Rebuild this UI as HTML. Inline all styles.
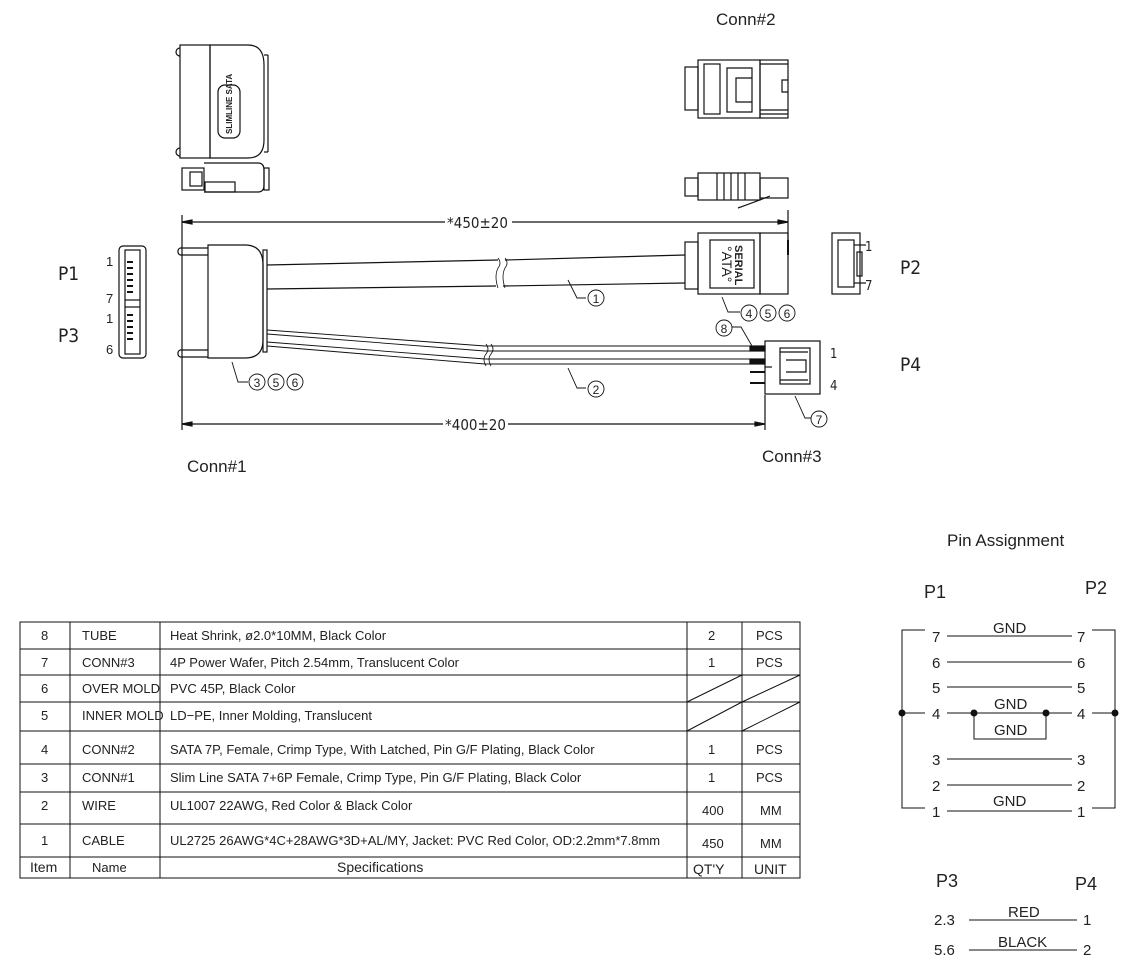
<!DOCTYPE html>
<html><head><meta charset="utf-8"><style>
html,body{margin:0;padding:0;background:#fff;}
svg{display:block;}
text{font-family:"Liberation Sans",sans-serif;fill:#222;}
.n{font-family:"DejaVu Sans Condensed","Liberation Sans Narrow","Liberation Sans",sans-serif;}
</style></head><body>
<svg width="1133" height="972" viewBox="0 0 1133 972" xmlns="http://www.w3.org/2000/svg" stroke="#111" fill="none" stroke-width="1.2">
<!-- Conn#1 top view -->
<rect x="180" y="45" width="30" height="113"/>
<path d="M180 48 a4 4 0 0 0 0 8 M180 148 a4 4 0 0 0 0 8"/>
<path d="M210 45 H248 Q264 45 264 65 V140 Q264 158 248 158 H210 Z"/>
<line x1="264" y1="55" x2="268" y2="55"/><line x1="268" y1="55" x2="268" y2="152"/><line x1="264" y1="152" x2="268" y2="152"/>
<rect x="218" y="85" width="22" height="53" rx="7"/>
<text x="0" y="0" transform="translate(232,134) rotate(-90)" font-size="8" stroke="none" font-weight="bold">SLIMLINE SATA</text>
<!-- Conn#1 side -->
<rect x="182" y="168" width="22" height="22"/><rect x="190" y="172" width="12" height="14"/>
<path d="M204 163 H258 Q264 163 264 170 V185 Q264 192 258 192 H204"/>
<rect x="205" y="182" width="30" height="10"/>
<rect x="264" y="168" width="5" height="22"/>
<!-- Conn#2 top -->
<rect x="685" y="67" width="13" height="43"/>
<rect x="698" y="60" width="62" height="58"/>
<rect x="704" y="64" width="16" height="50"/>
<path d="M727 68 H752 V112 H727 Z M736 78 H752 V102 H736 Z"/>
<rect x="760" y="60" width="28" height="58"/>
<line x1="760" y1="64" x2="788" y2="64"/><line x1="760" y1="110" x2="788" y2="110"/><line x1="760" y1="114" x2="788" y2="114"/>
<path d="M788 80 h-6 v12 h6"/>
<!-- Conn#2 side -->
<rect x="685" y="178" width="13" height="18"/>
<rect x="698" y="173" width="62" height="27"/>
<line x1="717" y1="173" x2="717" y2="200"/><line x1="724" y1="173" x2="724" y2="200"/><line x1="731" y1="173" x2="731" y2="200"/><line x1="738" y1="173" x2="738" y2="200"/><line x1="745" y1="173" x2="745" y2="200"/>
<rect x="760" y="178" width="28" height="20"/>
<path d="M738 208 Q760 200 770 196"/>
<!-- dim 450 -->
<line x1="182" y1="215" x2="182" y2="430"/>
<line x1="182" y1="222" x2="445" y2="222"/><line x1="512" y1="222" x2="788" y2="222"/>
<path d="M182 222 l10 -2 v4 z M788 222 l-10 -2 v4 z" fill="#111"/>
<line x1="788" y1="210" x2="788" y2="252"/>
<text x="447" y="228" font-size="15" stroke="none" class="n">*450±20</text>
<!-- dim 400 -->
<line x1="182" y1="424" x2="443" y2="424"/><line x1="508" y1="424" x2="765" y2="424"/>
<path d="M182 424 l10 -2 v4 z M765 424 l-10 -2 v4 z" fill="#111"/>
<line x1="765" y1="395" x2="765" y2="430"/>
<text x="445" y="430" font-size="15" stroke="none" class="n">*400±20</text>
<!-- P1/P3 face -->
<rect x="119" y="246" width="27" height="112" rx="4"/>
<rect x="125" y="250" width="15" height="104"/>
<line x1="125" y1="300" x2="140" y2="300"/><line x1="125" y1="307" x2="140" y2="307"/>
<g stroke-width="2"><line x1="127" y1="262" x2="133" y2="262"/><line x1="127" y1="268" x2="133" y2="268"/><line x1="127" y1="274" x2="133" y2="274"/><line x1="127" y1="280" x2="133" y2="280"/><line x1="127" y1="286" x2="133" y2="286"/><line x1="127" y1="292" x2="133" y2="292"/>
<line x1="127" y1="315" x2="133" y2="315"/><line x1="127" y1="321" x2="133" y2="321"/><line x1="127" y1="327" x2="133" y2="327"/><line x1="127" y1="333" x2="133" y2="333"/><line x1="127" y1="339" x2="133" y2="339"/></g>
<g stroke="none" font-size="13" class="n"><text x="106" y="266">1</text><text x="106" y="303">7</text><text x="106" y="323">1</text><text x="106" y="354">6</text></g>
<text x="58" y="280" font-size="19" stroke="none" class="n">P1</text>
<text x="58" y="342" font-size="19" stroke="none" class="n">P3</text>
<!-- Conn#1 main -->
<path d="M180 248 H208 M180 255 H208 M180 350 H208 M180 357 H208"/>
<path d="M180 248 a4 4 0 0 0 0 7 M180 350 a4 4 0 0 0 0 7"/>
<path d="M208 245 H245 Q263 245 263 265 V340 Q263 358 245 358 H208 Z"/>
<rect x="263" y="250" width="4" height="102"/>
<!-- cable 1 -->
<line x1="267" y1="265" x2="498" y2="260"/><line x1="505" y1="260" x2="685" y2="255"/>
<line x1="267" y1="289" x2="496" y2="286"/><line x1="503" y1="286" x2="685" y2="283"/>
<path d="M498 258 q4 5 0 10 q-4 8 0 20 M505 258 q4 5 0 10 q-4 8 0 20" stroke-width="0.8"/>
<!-- wires 2 -->
<g stroke-width="0.9">
<path d="M267 330 L485 346 H750 M267 334 L485 351 H750 M267 342 L485 359 H750 M267 346 L485 364 H750"/>
</g>
<path d="M486 344 q4 5 0 10 q-4 5 0 12 M491 344 q4 5 0 10 q-4 5 0 12" stroke-width="0.8"/>
<rect x="750" y="346" width="15" height="5" fill="#111"/><rect x="750" y="359" width="15" height="5" fill="#111"/>
<path d="M750 372 H765 M750 383 H765" stroke-width="2"/>
<!-- Conn#2 main -->
<rect x="685" y="242" width="13" height="47"/>
<rect x="698" y="233" width="62" height="61"/>
<rect x="710" y="240" width="44" height="48"/>
<rect x="760" y="233" width="28" height="61"/>
<line x1="788" y1="240" x2="788" y2="255" stroke-width="2"/>
<text transform="translate(735,245) rotate(90)" font-family="Liberation Serif" font-size="11" stroke="none" font-weight="bold">SERIAL</text>
<text transform="translate(722,246) rotate(90)" font-family="Liberation Serif" font-size="14" stroke="none">°ATA°</text>
<!-- P2 face -->
<rect x="832" y="233" width="28" height="61"/>
<rect x="838" y="240" width="16" height="47"/>
<rect x="857" y="252" width="5" height="24"/>
<line x1="854" y1="245" x2="866" y2="245"/><line x1="854" y1="283" x2="866" y2="283"/>
<text x="865" y="251" font-size="13" stroke="none" class="n">1</text>
<text x="865" y="290" font-size="13" stroke="none" class="n">7</text>
<text x="900" y="274" font-size="19" stroke="none" class="n">P2</text>
<!-- Conn#3 -->
<rect x="765" y="341" width="55" height="53"/>
<line x1="765" y1="367" x2="772" y2="367"/>
<rect x="780" y="348" width="30" height="36"/>
<path d="M780 352 H808 M780 380 H808 M786 360 H806 V372 H786"/>
<text x="830" y="358" font-size="13" stroke="none" class="n">1</text>
<text x="830" y="390" font-size="13" stroke="none" class="n">4</text>
<text x="900" y="371" font-size="19" stroke="none" class="n">P4</text>
<!-- callouts -->
<g stroke-width="0.9">
<path d="M568 280 L577 298 H586"/><circle cx="596" cy="298" r="8"/>
<path d="M568 368 L577 388 H586"/><circle cx="596" cy="389" r="8"/>
<path d="M232 362 L238 382 H248"/><circle cx="257" cy="382" r="8"/><circle cx="276" cy="382" r="8"/><circle cx="295" cy="382" r="8"/>
<path d="M722 297 L728 312 H740"/><circle cx="749" cy="313" r="8"/><circle cx="768" cy="313" r="8"/><circle cx="787" cy="313" r="8"/>
<circle cx="724" cy="328" r="8"/><path d="M732 327 H741 L752 346"/>
<path d="M795 396 L805 418 H811"/><circle cx="819" cy="419" r="8"/>
</g>
<g stroke="none" font-size="12" text-anchor="middle" class="n">
<text x="596" y="303">1</text><text x="596" y="394">2</text>
<text x="257" y="387">3</text><text x="276" y="387">5</text><text x="295" y="387">6</text>
<text x="749" y="318">4</text><text x="768" y="318">5</text><text x="787" y="318">6</text>
<text x="724" y="333">8</text><text x="819" y="424">7</text>
</g>
<g stroke="none" font-size="17" class="n">
<text x="716" y="25">Conn#2</text>
<text x="187" y="472">Conn#1</text>
<text x="762" y="462">Conn#3</text>
<text x="947" y="546">Pin Assignment</text>
</g>
<!-- table -->
<g stroke-width="1">
<rect x="20" y="622" width="780" height="256"/>
<line x1="20" y1="649" x2="800" y2="649"/><line x1="20" y1="675" x2="800" y2="675"/><line x1="20" y1="702" x2="800" y2="702"/><line x1="20" y1="731" x2="800" y2="731"/><line x1="20" y1="764" x2="800" y2="764"/><line x1="20" y1="792" x2="800" y2="792"/><line x1="20" y1="824" x2="800" y2="824"/><line x1="20" y1="857" x2="800" y2="857"/>
<line x1="70" y1="622" x2="70" y2="878"/><line x1="160" y1="622" x2="160" y2="878"/><line x1="687" y1="622" x2="687" y2="878"/><line x1="742" y1="622" x2="742" y2="878"/>
<path d="M687 702 L742 675 M742 702 L800 675 M687 731 L742 702 M742 731 L800 702"/>
</g>
<g stroke="none" font-size="13" class="n">
<text x="41" y="640">8</text><text x="82" y="640">TUBE</text><text x="170" y="640">Heat Shrink, ø2.0*10MM, Black Color</text><text x="708" y="640">2</text><text x="756" y="640">PCS</text>
<text x="41" y="667">7</text><text x="82" y="667">CONN#3</text><text x="170" y="667">4P Power Wafer, Pitch 2.54mm, Translucent Color</text><text x="708" y="667">1</text><text x="756" y="667">PCS</text>
<text x="41" y="693">6</text><text x="82" y="693">OVER MOLD</text><text x="170" y="693">PVC 45P, Black Color</text>
<text x="41" y="720">5</text><text x="82" y="720">INNER MOLD</text><text x="170" y="720">LD−PE, Inner Molding, Translucent</text>
<text x="41" y="754">4</text><text x="82" y="754">CONN#2</text><text x="170" y="754">SATA 7P, Female, Crimp Type, With Latched, Pin G/F Plating, Black Color</text><text x="708" y="754">1</text><text x="756" y="754">PCS</text>
<text x="41" y="782">3</text><text x="82" y="782">CONN#1</text><text x="170" y="782">Slim Line SATA 7+6P Female, Crimp Type, Pin G/F Plating, Black Color</text><text x="708" y="782">1</text><text x="756" y="782">PCS</text>
<text x="41" y="810">2</text><text x="82" y="810">WIRE</text><text x="170" y="810">UL1007 22AWG, Red Color &amp; Black Color</text><text x="702" y="815">400</text><text x="760" y="815">MM</text>
<text x="41" y="845">1</text><text x="82" y="845">CABLE</text><text x="170" y="845">UL2725 26AWG*4C+28AWG*3D+AL/MY, Jacket: PVC Red Color, OD:2.2mm*7.8mm</text><text x="702" y="848">450</text><text x="760" y="848">MM</text>
</g>
<g stroke="none" font-size="14">
<text x="30" y="872">Item</text><text x="92" y="872" font-size="13">Name</text><text x="337" y="872">Specifications</text><text x="693" y="874">QT'Y</text><text x="754" y="874">UNIT</text>
</g>
<!-- pin assignment -->
<g stroke-width="1">
<path d="M925 630 H902 V808 H925 M1092 630 H1115 V808 H1092"/>
<line x1="947" y1="636" x2="1072" y2="636"/><line x1="947" y1="662" x2="1072" y2="662"/><line x1="947" y1="687" x2="1072" y2="687"/>
<path d="M902 713 H925 M947 713 H1072 M1092 713 H1115"/>
<path d="M974 713 V739 H1046 V713"/>
<line x1="947" y1="759" x2="1072" y2="759"/><line x1="947" y1="785" x2="1072" y2="785"/><line x1="947" y1="811" x2="1072" y2="811"/>
<line x1="969" y1="920" x2="1077" y2="920"/><line x1="969" y1="950" x2="1077" y2="950"/>
</g>
<g fill="#111" stroke="none"><circle cx="902" cy="713" r="3.5"/><circle cx="1115" cy="713" r="3.5"/><circle cx="974" cy="713" r="3.5"/><circle cx="1046" cy="713" r="3.5"/></g>
<g stroke="none" font-size="15" class="n">
<text x="924" y="598" font-size="18">P1</text><text x="1085" y="594" font-size="18">P2</text>
<text x="932" y="642">7</text><text x="1077" y="642">7</text>
<text x="932" y="668">6</text><text x="1077" y="668">6</text>
<text x="932" y="693">5</text><text x="1077" y="693">5</text>
<text x="932" y="719">4</text><text x="1077" y="719">4</text>
<text x="932" y="765">3</text><text x="1077" y="765">3</text>
<text x="932" y="791">2</text><text x="1077" y="791">2</text>
<text x="932" y="817">1</text><text x="1077" y="817">1</text>
<text x="993" y="633">GND</text><text x="994" y="709">GND</text><text x="994" y="735">GND</text><text x="993" y="806">GND</text>
<text x="936" y="887" font-size="18">P3</text><text x="1075" y="890" font-size="18">P4</text>
<text x="934" y="925">2.3</text><text x="1083" y="925">1</text><text x="1008" y="917">RED</text>
<text x="934" y="955">5.6</text><text x="1083" y="955">2</text><text x="998" y="947">BLACK</text>
</g>
</svg>
</body></html>
